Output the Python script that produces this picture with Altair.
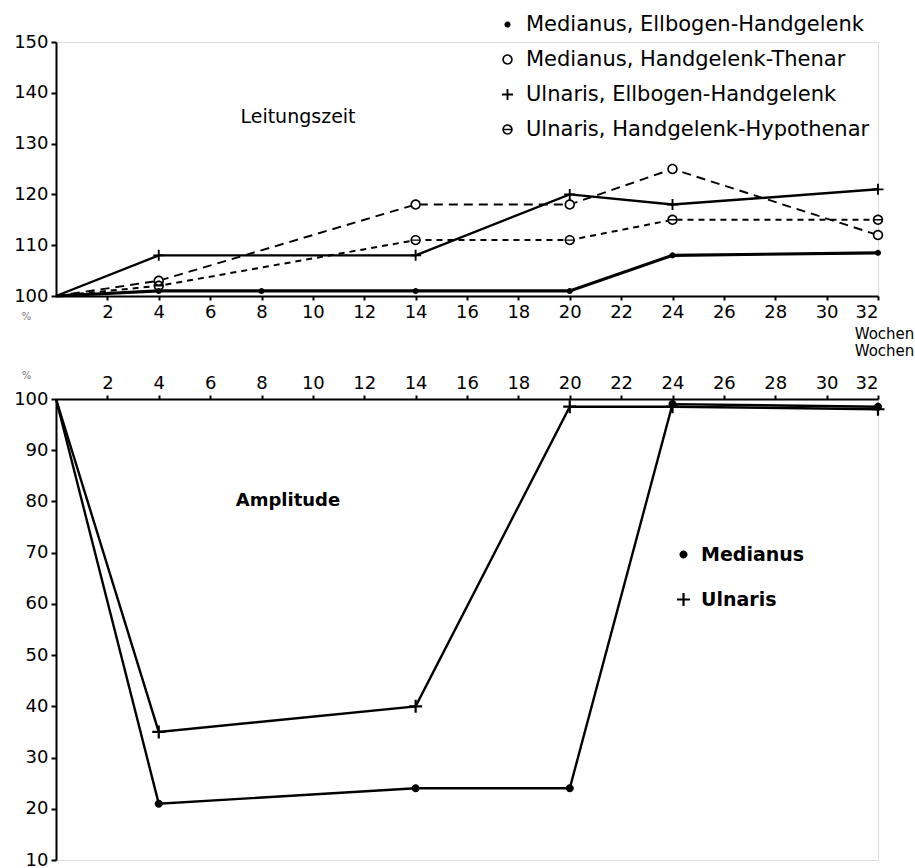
import altair as alt
import pandas as pd

FONT = "DejaVu Sans"

# ---------- data: upper panel (Leitungszeit, %) ----------
top_series = [
    "Medianus, Ellbogen-Handgelenk",
    "Medianus, Handgelenk-Thenar",
    "Ulnaris, Ellbogen-Handgelenk",
    "Ulnaris, Handgelenk-Hypothenar",
]
med_eh_weeks = [0, 4, 8, 14, 20, 24, 32]
med_eh_vals = [100, 101, 101, 101, 101, 108, 108.5]
med_ht_weeks = [0, 4, 14, 20, 24, 32]
med_ht_vals = [100, 103, 118, 118, 125, 112]
uln_eh_weeks = [0, 4, 14, 20, 24, 32]
uln_eh_vals = [100, 108, 108, 120, 118, 121]
uln_hh_weeks = [0, 4, 14, 20, 24, 32]
uln_hh_vals = [100, 102, 111, 111, 115, 115]

# ---------- data: lower panel (Amplitude, %) ----------
bottom_series = ["Medianus", "Ulnaris"]
amp_weeks = [0, 4, 14, 20, 24, 32]
med_amp = [100, 21, 24, 24, 99, 98.5]
uln_amp = [100, 35, 40, 98.5, 98.5, 98]

x_ticks = list(range(2, 33, 2))
top_y_ticks = [100, 110, 120, 130, 140, 150]
bottom_y_ticks = [10, 20, 30, 40, 50, 60, 70, 80, 90, 100]

top_rows = []
for name, wk, vals in zip(
    top_series,
    [med_eh_weeks, med_ht_weeks, uln_eh_weeks, uln_hh_weeks],
    [med_eh_vals, med_ht_vals, uln_eh_vals, uln_hh_vals],
):
    for w, v in zip(wk, vals):
        top_rows.append({"series": name, "week": w, "value": v})
top_df = pd.DataFrame(top_rows)

bottom_rows = []
for name, vals in zip(bottom_series, [med_amp, uln_amp]):
    for w, v in zip(amp_weeks, vals):
        bottom_rows.append({"nerv": name, "week": w, "value": v})
bottom_df = pd.DataFrame(bottom_rows)


def disk(r, sweep=1):
    return f"M{-r},0A{r},{r} 0 1,{sweep} {r},0A{r},{r} 0 1,{sweep} {-r},0Z"


# symbol outlines (filled paths)
PLUS = ("M-1,-0.17L-0.17,-0.17L-0.17,-1L0.17,-1L0.17,-0.17L1,-0.17L1,0.17"
        "L0.17,0.17L0.17,1L-0.17,1L-0.17,0.17L-1,0.17Z")
DOT_S = disk(0.55)
RING = disk(0.95, 1) + disk(0.66, 0)
RING_BAR = RING + "M-0.7,-0.13L0.7,-0.13L0.7,0.13L-0.7,0.13Z"
DOT_B = disk(0.62)

W = 822
H_TOP = 254
H_BOT = 461

common_axis = dict(
    labelFont=FONT,
    labelFontSize=18,
    labelColor="black",
    domainColor="black",
    domainWidth=2,
    tickColor="black",
    tickWidth=2,
    grid=False,
    titleFont=FONT,
    titleFontWeight="normal",
)

# ---------- upper panel ----------
x_top = alt.X(
    "week:Q",
    scale=alt.Scale(domain=[0, 32], nice=False, zero=False),
    axis=alt.Axis(
        values=x_ticks,
        tickSize=4,
        labelPadding=3,
        title="Wochen",
        titleColor="black",
        titleFontSize=15,
        titleX=828,
        titleY=37,
        titleAlign="center",
        titleBaseline="middle",
        **common_axis,
    ),
)
y_top = alt.Y(
    "value:Q",
    scale=alt.Scale(domain=[100, 150], nice=False, zero=False),
    axis=alt.Axis(
        values=top_y_ticks,
        tickSize=5,
        labelPadding=3,
        title="%",
        titleFontSize=10,
        titleColor="#777777",
        titleAngle=0,
        titleX=-30,
        titleY=H_TOP + 20,
        titleAlign="center",
        titleBaseline="middle",
        **common_axis,
    ),
)

line_styles = {
    top_series[0]: dict(strokeWidth=3.2),
    top_series[1]: dict(strokeWidth=1.9, strokeDash=[9, 6]),
    top_series[2]: dict(strokeWidth=2.4),
    top_series[3]: dict(strokeWidth=2.0, strokeDash=[6, 5]),
}

top_line_layers = []
for name in top_series:
    top_line_layers.append(
        alt.Chart(top_df)
        .transform_filter(alt.datum.series == name)
        .mark_line(color="black", **line_styles[name])
        .encode(x=x_top, y=y_top, order="week:Q")
    )

# white interiors of the open circles
ring_bg = (
    alt.Chart(top_df)
    .transform_filter("datum.week > 0")
    .transform_filter(alt.FieldOneOfPredicate(field="series", oneOf=[top_series[1], top_series[3]]))
    .mark_point(filled=True, color="white", opacity=1, shape="circle", size=100)
    .encode(x=x_top, y=y_top)
)

top_legend = alt.Legend(
    title=None,
    orient="none",
    legendX=441,
    legendY=-28,
    labelFont=FONT,
    labelFontSize=21,
    labelColor="black",
    labelLimit=500,
    labelOffset=8,
    rowPadding=13,
    symbolSize=121,
    symbolFillColor="black",
    symbolStrokeWidth=0,
)

top_points = (
    alt.Chart(top_df)
    .transform_filter("datum.week > 0")
    .mark_point(filled=True, color="black", opacity=1, size=121)
    .encode(
        x=x_top,
        y=y_top,
        shape=alt.Shape(
            "series:N",
            scale=alt.Scale(domain=top_series, range=[DOT_S, RING, PLUS, RING_BAR]),
            legend=top_legend,
        ),
    )
)

top_label = alt.Chart(pd.DataFrame({"label": ["Leitungszeit"]})).mark_text(
    font=FONT, fontSize=19, color="black", align="center", baseline="middle"
).encode(text="label:N", x=alt.value(242), y=alt.value(75))

top_chart = alt.layer(*top_line_layers, ring_bg, top_points, top_label).properties(
    width=W, height=H_TOP
)

# ---------- lower panel ----------
x_bot = alt.X(
    "week:Q",
    scale=alt.Scale(domain=[0, 32], nice=False, zero=False),
    axis=alt.Axis(
        orient="top",
        values=x_ticks,
        tickSize=4,
        labelPadding=3,
        title="Wochen",
        titleColor="black",
        titleFontSize=15,
        titleX=828,
        titleY=-49,
        titleAlign="center",
        titleBaseline="middle",
        **common_axis,
    ),
)
y_bot = alt.Y(
    "value:Q",
    scale=alt.Scale(domain=[10, 100], nice=False, zero=False),
    axis=alt.Axis(
        values=bottom_y_ticks,
        tickSize=5,
        labelPadding=3,
        title="%",
        titleFontSize=10,
        titleColor="#777777",
        titleAngle=0,
        titleX=-30,
        titleY=-24,
        titleAlign="center",
        titleBaseline="middle",
        **common_axis,
    ),
)

bot_lines = alt.Chart(bottom_df).mark_line(color="black", strokeWidth=2.4).encode(
    x=x_bot, y=y_bot, detail="nerv:N", order="week:Q"
)

bot_legend = alt.Legend(
    title=None,
    orient="none",
    legendX=618,
    legendY=146,
    labelFont=FONT,
    labelFontSize=19,
    labelFontWeight="bold",
    labelColor="black",
    labelOffset=8,
    rowPadding=25,
    symbolSize=169,
    symbolFillColor="black",
    symbolStrokeWidth=0,
)

bot_points = (
    alt.Chart(bottom_df)
    .transform_filter("datum.week > 0")
    .mark_point(filled=True, color="black", opacity=1, size=169)
    .encode(
        x=x_bot,
        y=y_bot,
        shape=alt.Shape(
            "nerv:N",
            scale=alt.Scale(domain=bottom_series, range=[DOT_B, PLUS]),
            legend=bot_legend,
        ),
    )
)

bot_label = alt.Chart(pd.DataFrame({"label": ["Amplitude"]})).mark_text(
    font=FONT, fontSize=18, fontWeight="bold", color="black", align="center", baseline="middle"
).encode(text="label:N", x=alt.value(232), y=alt.value(102))

bottom_chart = alt.layer(bot_lines, bot_points, bot_label).properties(width=W, height=H_BOT)

chart = (
    alt.vconcat(top_chart, bottom_chart, spacing=103, bounds="flush")
    .resolve_scale(
        x="independent",
        y="independent",
        shape="independent",
    )
    .properties(padding={"left": 13, "top": 13, "right": 0, "bottom": 0}, background="white")
    .configure_view(stroke=None)
    .configure(font=FONT)
)

chart.save("out.html", embed_options={"renderer": "svg", "actions": False})
